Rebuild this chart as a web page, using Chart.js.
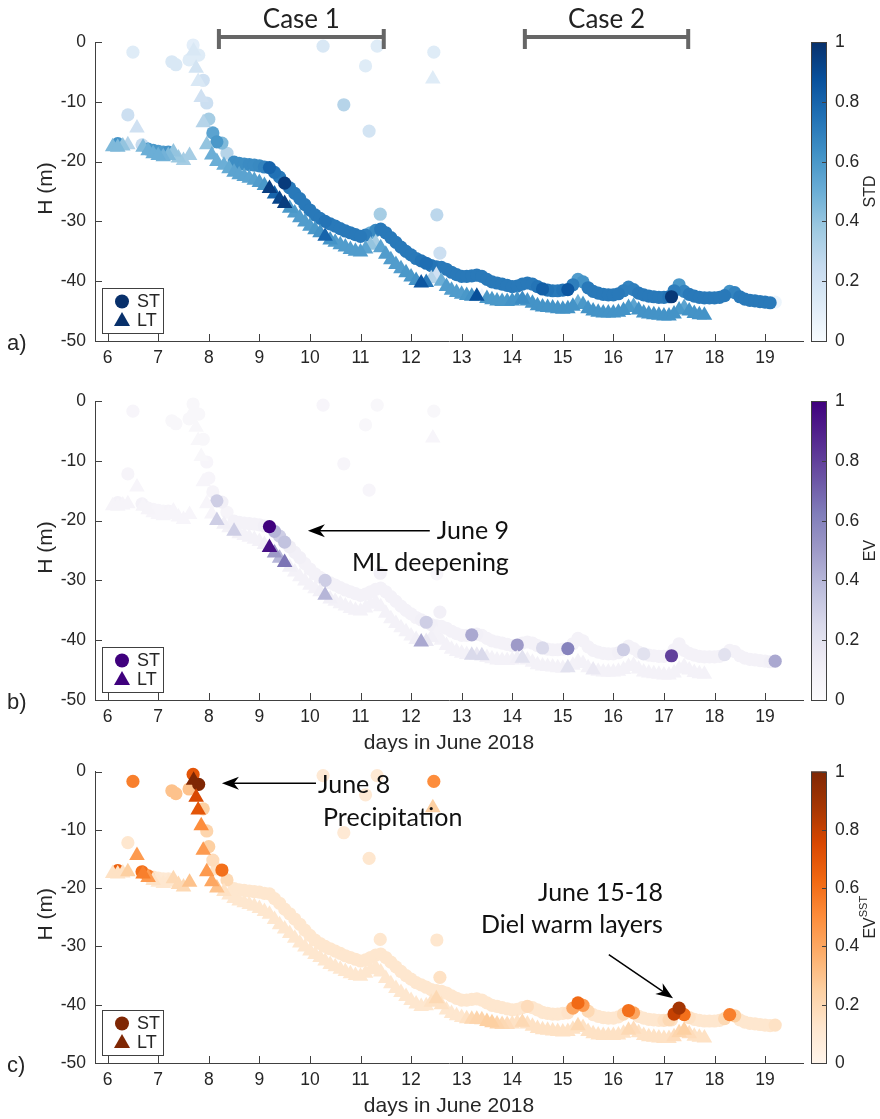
<!DOCTYPE html>
<html>
<head>
<meta charset="UTF-8">
<title>Mixed layer depth, June 2018</title>
<script src="https://cdn.jsdelivr.net/npm/chart.js@4.4.0/dist/chart.umd.min.js"></script>
<style>
  body { margin: 0; background: #fff; }
  canvas { position: absolute; left: 0; }
</style>
</head>
<body>
<canvas id="chA" width="880" height="372" style="top:0px"></canvas>
<canvas id="chB" width="880" height="380" style="top:372px"></canvas>
<canvas id="chC" width="880" height="367" style="top:752px"></canvas>
<script>
const xTicks = [6, 7, 8, 9, 10, 11, 12, 13, 14, 15, 16, 17, 18, 19];
const yTicks = [-50, -40, -30, -20, -10, 0];
const cbTicks = [0, 0.2, 0.4, 0.6, 0.8, 1];
const caseNames = ['Case 1', 'Case 2'];
const caseFrom = [8.2, 14.25];
const caseTo = [11.46, 17.48];

// ST (circles)
const stDay = [6.20, 6.40, 6.50, 6.68, 6.80, 6.90, 7.00, 7.10, 7.20, 7.27,
  7.35, 7.61, 7.69, 7.80, 7.89, 7.96, 8.00, 8.08, 8.16, 8.26,
  8.36,
  8.5, 8.6, 8.7, 8.8, 8.9, 9.0, 9.1, 9.2, 9.3, 9.4,
  9.5, 9.6, 9.7, 9.8, 9.9, 10.0, 10.1, 10.2, 10.3, 10.4,
  10.5, 10.6, 10.7, 10.8, 10.9, 11.0, 11.1, 11.2, 11.3, 11.4,
  11.5, 11.6, 11.7, 11.8, 11.9, 12.0, 12.1, 12.2, 12.3, 12.4,
  12.5, 12.6, 12.7, 12.8, 12.9, 13.0, 13.1, 13.2, 13.3, 13.4,
  13.5, 13.6, 13.7, 13.8, 13.9, 14.0, 14.1, 14.2, 14.3, 14.4,
  14.5, 14.6, 14.7, 14.8, 14.9, 15.0, 15.1, 15.2, 15.3, 15.4,
  15.5, 15.6, 15.7, 15.8, 15.9, 16.0, 16.1, 16.2, 16.3, 16.4,
  16.5, 16.6, 16.7, 16.8, 16.9, 17.0, 17.1, 17.15, 17.2, 17.3,
  17.4, 17.5, 17.6, 17.7, 17.8, 17.9, 18.0, 18.1, 18.2, 18.3,
  18.4, 18.5, 18.6, 18.7, 18.8, 18.9, 19.0, 19.1, 19.2,
  10.26, 10.67, 11.10, 11.17, 11.33, 11.39, 12.45, 12.51, 12.57];
const stH = [-17.0, -12.2, -1.7, -17.2, -17.9, -18.1, -18.3, -18.4, -18.4, -3.3,
  -3.8, -3.0, -0.5, -2.2, -6.4, -10.2, -12.9, -15.2, -16.7, -16.9,
  -18.6,
  -20.1, -20.3, -20.4, -20.5, -20.6, -20.7, -20.9, -21.0, -21.8, -22.6,
  -23.6, -24.4, -25.3, -26.2, -27.2, -28.1, -28.9, -29.5, -30.0, -30.4,
  -30.8, -31.2, -31.6, -31.9, -32.2, -32.5, -32.3, -31.9, -31.5, -31.3,
  -31.9, -32.7, -33.5, -34.3, -35.0, -35.6, -36.2, -36.6, -37.0, -37.4,
  -37.6, -37.7, -38.0, -38.5, -38.9, -39.2, -39.2, -39.1, -39.0, -39.2,
  -39.7, -40.1, -40.3, -40.5, -40.7, -40.9, -40.8, -40.5, -40.3, -40.5,
  -40.9, -41.3, -41.5, -41.6, -41.6, -41.5, -41.4, -40.6, -39.7, -40.1,
  -41.1, -41.7, -42.0, -42.2, -42.3, -42.3, -42.1, -41.6, -41.0, -41.4,
  -42.0, -42.3, -42.5, -42.6, -42.7, -42.7, -42.6, -42.6, -41.6, -40.6,
  -41.7, -42.2, -42.5, -42.7, -42.8, -42.8, -42.8, -42.7, -42.4, -41.7,
  -41.9, -42.6, -43.0, -43.2, -43.3, -43.4, -43.5, -43.6, -43.5,
  -0.7, -10.5, -4.0, -14.9, -0.7, -28.8, -1.7, -28.9, -35.3];
const stStd = [.62, .22, .12, .25, .60, .60, .58, .58, .62, .15,
  .15, .12, .10, .12, .20, .22, .35, .55, .60, .45,
  .30,
  .64, .64, .64, .65, .65, .66, .68, .80, .75, .72,
  .96, .72, .72, .72, .72, .72, .72, .72, .74, .72,
  .72, .72, .72, .72, .72, .72, .70, .50, .66, .72,
  .72, .72, .72, .72, .72, .72, .72, .74, .76, .74,
  .72, .72, .72, .72, .72, .72, .72, .72, .72, .72,
  .72, .72, .72, .72, .72, .72, .72, .72, .72, .72,
  .74, .82, .74, .72, .72, .74, .85, .70, .58, .62,
  .72, .72, .72, .72, .72, .72, .72, .70, .68, .70,
  .72, .72, .72, .72, .72, .72, .74, .97, .70, .60,
  .68, .72, .72, .72, .72, .72, .72, .72, .72, .62,
  .68, .72, .72, .72, .72, .72, .72, .72, .05,
  .15, .30, .12, .18, .12, .35, .12, .28, .22];
const stEv = [.08, .06, .05, .08, .06, .05, .05, .05, .06, .04,
  .04, .04, .04, .04, .04, .05, .05, .06, .30, .10,
  .06,
  .08, .08, .08, .08, .08, .08, .10, 1.0, .40, .30,
  .35, .12, .10, .10, .08, .08, .08, .08, .30, .08,
  .08, .08, .08, .08, .08, .08, .08, .08, .08, .08,
  .08, .08, .08, .08, .08, .08, .08, .10, .30, .10,
  .08, .08, .08, .08, .08, .08, .08, .45, .10, .08,
  .08, .08, .08, .08, .08, .08, .50, .08, .08, .08,
  .08, .25, .08, .08, .08, .08, .60, .08, .08, .08,
  .08, .08, .08, .08, .08, .08, .10, .30, .08, .08,
  .08, .20, .08, .08, .08, .08, .08, .80, .08, .08,
  .08, .08, .08, .08, .08, .08, .08, .08, .20, .08,
  .08, .08, .08, .08, .08, .08, .08, .10, .45,
  .05, .05, .04, .05, .04, .10, .04, .05, .10];
const stSst = [.65, .12, .55, .60, .55, .12, .10, .10, .10, .30,
  .30, .30, .70, 1.0, .25, .22, .25, .18, .15, .60,
  .20,
  .12, .12, .12, .12, .12, .12, .12, .12, .12, .12,
  .12, .12, .12, .12, .12, .12, .12, .12, .12, .12,
  .12, .12, .12, .12, .12, .12, .12, .12, .12, .12,
  .12, .12, .12, .12, .12, .12, .12, .12, .12, .12,
  .12, .12, .12, .12, .12, .12, .12, .12, .12, .12,
  .12, .12, .12, .12, .12, .12, .12, .12, .18, .12,
  .12, .12, .12, .12, .12, .12, .14, .40, .62, .45,
  .20, .12, .12, .12, .12, .12, .12, .20, .60, .40,
  .12, .12, .12, .12, .12, .15, .20, .15, .80, .88,
  .60, .15, .12, .12, .12, .12, .12, .12, .20, .55,
  .25, .12, .12, .12, .12, .12, .12, .12, .15,
  .10, .10, .10, .12, .10, .12, .50, .12, .15];

// LT (triangles)
const ltDay = [6.10, 6.20, 6.30, 6.40, 6.58, 6.70, 6.80, 6.90, 7.00, 7.10,
  7.20, 7.30, 7.40, 7.50, 7.62, 7.70, 7.75, 7.79, 7.85, 7.89,
  7.96, 8.06, 8.16, 8.30, 8.40,
  8.5, 8.6, 8.7, 8.8, 8.9, 9.0, 9.1, 9.2, 9.3, 9.4,
  9.5, 9.6, 9.7, 9.8, 9.9, 10.0, 10.1, 10.2, 10.3, 10.4,
  10.5, 10.6, 10.7, 10.8, 10.9, 11.0, 11.1, 11.2, 11.3, 11.4,
  11.5, 11.6, 11.7, 11.8, 11.9, 12.0, 12.1, 12.2, 12.3, 12.4,
  12.5, 12.6, 12.7, 12.8, 12.9, 13.0, 13.1, 13.2, 13.3, 13.4,
  13.5, 13.6, 13.7, 13.8, 13.9, 14.0, 14.1, 14.2, 14.3, 14.4,
  14.5, 14.6, 14.7, 14.8, 14.9, 15.0, 15.1, 15.2, 15.3, 15.4,
  15.5, 15.6, 15.7, 15.8, 15.9, 16.0, 16.1, 16.2, 16.3, 16.4,
  16.5, 16.6, 16.7, 16.8, 16.9, 17.0, 17.1, 17.2, 17.3, 17.4,
  17.5, 17.6, 17.7, 17.8,
  12.43];
const ltH = [-17.5, -17.6, -17.4, -17.2, -14.4, -17.6, -18.2, -18.7, -19.0, -19.2,
  -19.0, -18.4, -19.4, -19.8, -19.0, -1.5, -4.4, -6.6, -9.3, -13.5,
  -17.2, -18.9, -20.0, -20.6, -21.2,
  -21.8, -22.2, -22.5, -22.8, -23.1, -23.5, -24.0, -24.5, -25.4, -26.3,
  -27.0, -27.8, -28.6, -29.4, -30.1, -30.8, -31.4, -31.9, -32.5, -33.1,
  -33.5, -33.9, -34.3, -34.7, -35.0, -35.1, -34.6, -34.0, -33.6, -34.4,
  -35.5, -36.4, -37.2, -37.9, -38.6, -39.3, -39.9, -40.3, -40.2, -39.6,
  -39.0, -40.0, -40.9, -41.5, -41.9, -42.2, -42.4, -42.5, -42.5, -42.6,
  -42.9, -43.1, -43.3, -43.4, -43.4, -43.3, -43.1, -43.0, -43.3, -43.7,
  -44.1, -44.3, -44.4, -44.5, -44.6, -44.7, -44.6, -44.2, -43.6, -43.9,
  -44.6, -45.0, -45.2, -45.3, -45.3, -45.3, -45.2, -44.9, -44.4, -44.2,
  -44.8, -45.3, -45.5, -45.6, -45.7, -45.8, -45.8, -45.5, -44.8, -44.4,
  -45.0, -45.4, -45.6, -45.7,
  -6.2];
const ltStd = [.45, .45, .40, .30, .20, .45, .50, .50, .50, .48,
  .45, .40, .38, .35, .35, .15, .18, .15, .20, .30,
  .40, .50, .50, .50, .52,
  .55, .55, .55, .55, .56, .58, .60, .95, .80, .92,
  .95, .60, .58, .58, .58, .58, .60, .62, .80, .62,
  .58, .58, .58, .58, .58, .58, .55, .40, .35, .55,
  .58, .58, .58, .58, .60, .60, .62, .85, .72, .30,
  .20, .50, .58, .58, .58, .58, .60, .62, .88, .05,
  .60, .60, .60, .60, .60, .62, .62, .65, .62, .62,
  .62, .62, .62, .62, .62, .62, .62, .62, .50, .60,
  .62, .62, .62, .62, .62, .62, .62, .62, .60, .55,
  .62, .62, .62, .62, .62, .62, .62, .62, .60, .55,
  .62, .62, .62, .62,
  .12];
const ltEv = [.06, .06, .06, .06, .05, .06, .06, .05, .05, .05,
  .05, .05, .05, .05, .05, .04, .04, .04, .04, .05,
  .05, .06, .30, .10, .08,
  .30, .08, .08, .08, .08, .08, .10, .95, .50, .40,
  .65, .10, .08, .08, .08, .08, .08, .10, .40, .10,
  .08, .08, .08, .08, .08, .08, .08, .08, .08, .08,
  .08, .08, .08, .08, .08, .08, .10, .45, .15, .10,
  .08, .08, .08, .08, .08, .08, .08, .25, .15, .25,
  .08, .08, .08, .08, .08, .08, .10, .20, .08, .08,
  .08, .08, .08, .08, .08, .08, .20, .08, .08, .08,
  .08, .15, .08, .08, .08, .08, .08, .08, .08, .08,
  .08, .08, .08, .08, .08, .08, .08, .08, .08, .08,
  .08, .08, .08, .08,
  .05];
const ltSst = [.15, .15, .15, .25, .45, .55, .45, .15, .12, .12,
  .12, .20, .20, .20, .30, 1.0, .75, .70, .50, .45,
  .45, .40, .30, .15, .12,
  .12, .12, .12, .12, .12, .12, .12, .12, .12, .12,
  .12, .12, .12, .12, .12, .12, .12, .12, .12, .12,
  .12, .12, .12, .12, .12, .12, .12, .12, .12, .12,
  .12, .12, .12, .12, .12, .12, .12, .12, .12, .15,
  .20, .15, .12, .12, .12, .12, .15, .20, .22, .22,
  .25, .25, .22, .20, .18, .15, .15, .20, .15, .15,
  .15, .15, .15, .15, .15, .15, .15, .15, .20, .15,
  .15, .15, .15, .15, .15, .15, .15, .15, .20, .18,
  .15, .15, .15, .15, .15, .15, .15, .18, .22, .25,
  .18, .15, .15, .15,
  .25];

const blues = ['#f7fbff', '#deebf7', '#c6dbef', '#9ecae1', '#6baed6', '#4292c6', '#2171b5', '#08519c', '#08306b'];
const purples = ['#fcfbfd', '#efedf5', '#dadaeb', '#bcbddc', '#9e9ac8', '#807dba', '#6a51a3', '#54278f', '#3f007d'];
const oranges = ['#fff5eb', '#fee6ce', '#fdd0a2', '#fdae6b', '#fd8d3c', '#f16913', '#d94801', '#a63603', '#7f2704'];

const AX = '#404040';
const TXT = '#262626';
const SANS = '"Liberation Sans", Arial, sans-serif';
const ANNO = 'Lato, "Open Sans", sans-serif';

function hexRgb(h) {
  return [parseInt(h.slice(1, 3), 16), parseInt(h.slice(3, 5), 16), parseInt(h.slice(5, 7), 16)];
}
function cmap(stops, v) {
  v = Math.max(0, Math.min(1, v));
  const p = v * (stops.length - 1);
  const i = Math.min(Math.floor(p), stops.length - 2);
  const t = p - i;
  const a = hexRgb(stops[i]), b = hexRgb(stops[i + 1]);
  const c = a.map((q, k) => Math.round(q + (b[k] - q) * t));
  return 'rgb(' + c.join(',') + ')';
}

// points sorted by value so the strong ones end up on top
function pts(days, hs, vals) {
  return days.map((d, i) => ({ x: d, y: hs[i], v: vals[i] })).sort((p, q) => p.v - q.v);
}

function arrow(ctx, x1, y1, x2, y2) {
  const ang = Math.atan2(y2 - y1, x2 - x1), L = 17, W = 6.5, N = 5;
  ctx.beginPath();
  ctx.moveTo(x1, y1);
  ctx.lineTo(x2 - Math.cos(ang) * (L - N), y2 - Math.sin(ang) * (L - N));
  ctx.stroke();
  ctx.save();
  ctx.translate(x2, y2);
  ctx.rotate(ang);
  ctx.beginPath();
  ctx.moveTo(0, 0);
  ctx.lineTo(-L, -W);
  ctx.lineTo(-L + N, 0);
  ctx.lineTo(-L, W);
  ctx.closePath();
  ctx.fill();
  ctx.restore();
}

function decor(o) {
  return {
    id: 'decor',
    afterDraw(chart) {
      const ctx = chart.ctx, a = chart.chartArea;
      const xs = chart.scales.x, ys = chart.scales.y;
      ctx.save();

      // inward tick marks
      ctx.strokeStyle = AX;
      ctx.lineWidth = 1;
      ctx.beginPath();
      xTicks.forEach(t => {
        const x = Math.round(xs.getPixelForValue(t)) + 0.5;
        ctx.moveTo(x, a.bottom); ctx.lineTo(x, a.bottom - 7);
      });
      yTicks.forEach(t => {
        const y = Math.round(ys.getPixelForValue(t)) + 0.5;
        ctx.moveTo(a.left, y); ctx.lineTo(a.left + 7, y);
      });
      ctx.stroke();

      // axis titles and panel letter
      ctx.fillStyle = TXT;
      ctx.font = '21px ' + SANS;
      ctx.textAlign = 'center';
      ctx.textBaseline = 'middle';
      ctx.save();
      ctx.translate(46, (a.top + a.bottom) / 2 - 3);
      ctx.rotate(-Math.PI / 2);
      ctx.fillText('H (m)', 0, 0);
      ctx.restore();
      if (o.xTitle) ctx.fillText('days in June 2018', (a.left + a.right) / 2, a.bottom + 43);
      ctx.textAlign = 'left';
      ctx.font = '22px ' + SANS;
      ctx.fillText(o.panel, 7, a.bottom + 3);

      // legend
      const lx = a.left + 7, ly = a.bottom - 53;
      ctx.fillStyle = '#fff';
      ctx.fillRect(lx, ly, 61, 45);
      ctx.strokeStyle = AX;
      ctx.strokeRect(lx + 0.5, ly + 0.5, 61, 45);
      const dark = cmap(o.stops, 1);
      ctx.fillStyle = dark;
      ctx.beginPath();
      ctx.arc(lx + 20, ly + 13.5, 7, 0, Math.PI * 2);
      ctx.fill();
      ctx.beginPath();
      ctx.moveTo(lx + 20, ly + 24);
      ctx.lineTo(lx + 28, ly + 38);
      ctx.lineTo(lx + 12, ly + 38);
      ctx.closePath();
      ctx.fill();
      ctx.fillStyle = TXT;
      ctx.font = '18px ' + SANS;
      ctx.textBaseline = 'middle';
      ctx.fillText('ST', lx + 35, ly + 14);
      ctx.fillText('LT', lx + 35, ly + 33);

      // colorbar
      const cx0 = a.right + 8, cw = 15;
      const g = ctx.createLinearGradient(0, a.bottom, 0, a.top);
      for (let i = 0; i <= 40; i++) g.addColorStop(i / 40, cmap(o.stops, i / 40));
      ctx.fillStyle = g;
      ctx.fillRect(cx0, a.top, cw, a.bottom - a.top);
      ctx.strokeStyle = AX;
      ctx.strokeRect(cx0 + 0.5, a.top + 0.5, cw, a.bottom - a.top);
      ctx.fillStyle = TXT;
      ctx.font = '17.5px ' + SANS;
      ctx.beginPath();
      cbTicks.forEach(t => {
        const y = Math.round(a.bottom - t * (a.bottom - a.top)) + 0.5;
        ctx.moveTo(cx0 + cw, y); ctx.lineTo(cx0 + cw - 4, y);
        ctx.fillText(String(t), cx0 + 24, y);
      });
      ctx.stroke();
      ctx.save();
      ctx.translate(a.right + 68, (a.top + a.bottom) / 2);
      ctx.rotate(-Math.PI / 2);
      ctx.font = '16px ' + SANS;
      const w1 = ctx.measureText(o.cbLabel).width;
      let w2 = 0;
      if (o.cbSup) { ctx.font = '11px ' + SANS; w2 = ctx.measureText(o.cbSup).width; }
      ctx.textAlign = 'left';
      ctx.font = '16px ' + SANS;
      ctx.fillText(o.cbLabel, -(w1 + w2) / 2, 0);
      if (o.cbSup) {
        ctx.font = '11px ' + SANS;
        ctx.fillText(o.cbSup, -(w1 + w2) / 2 + w1, -7);
      }
      ctx.restore();

      if (o.notes) o.notes(ctx, xs, ys, a);
      ctx.restore();
    }
  };
}

function makeChart(id, o) {
  return new Chart(document.getElementById(id), {
    type: 'scatter',
    data: {
      datasets: [
        {
          label: 'LT', data: o.lt, order: 0, clip: false,
          pointStyle: 'triangle', pointRadius: 9,
          pointBackgroundColor: c => cmap(o.stops, c.raw ? c.raw.v : 1),
          pointBorderWidth: 0
        },
        {
          label: 'ST', data: o.st, order: 1, clip: false,
          pointStyle: 'circle', pointRadius: 6.6,
          pointBackgroundColor: c => cmap(o.stops, c.raw ? c.raw.v : 1),
          pointBorderWidth: 0
        }
      ]
    },
    options: {
      responsive: false,
      animation: false,
      events: [],
      layout: { padding: { left: 0, top: o.top, right: 77, bottom: 0 } },
      plugins: { legend: { display: false }, tooltip: { enabled: false } },
      scales: {
        x: {
          type: 'linear', min: 5.75, max: 19.75,
          afterBuildTicks: s => { s.ticks = xTicks.map(v => ({ value: v })); },
          afterFit: s => { s.height = o.xh; },
          grid: { display: false, drawTicks: false },
          border: { color: AX, width: 1 },
          ticks: { color: TXT, font: { family: SANS, size: 17.5 }, padding: 7, maxRotation: 0, autoSkip: false }
        },
        y: {
          type: 'linear', min: -50, max: 0,
          afterBuildTicks: s => { s.ticks = yTicks.map(v => ({ value: v })); },
          afterFit: s => { s.width = 95; },
          grid: { display: false, drawTicks: false },
          border: { color: AX, width: 1 },
          ticks: { color: TXT, font: { family: SANS, size: 17.5 }, padding: 9 }
        }
      }
    },
    plugins: [decor(o)]
  });
}

makeChart('chA', {
  top: 42, xh: 31, panel: 'a)', stops: blues, cbLabel: 'STD', xTitle: false,
  st: pts(stDay, stH, stStd), lt: pts(ltDay, ltH, ltStd),
  notes(ctx, xs, ys, a) {
    ctx.strokeStyle = '#666';
    ctx.lineWidth = 4;
    caseNames.forEach((nm, i) => {
      const x1 = xs.getPixelForValue(caseFrom[i]), x2 = xs.getPixelForValue(caseTo[i]);
      ctx.beginPath();
      ctx.moveTo(x1, a.top - 5); ctx.lineTo(x2, a.top - 5);
      ctx.moveTo(x1, a.top - 13); ctx.lineTo(x1, a.top + 7);
      ctx.moveTo(x2, a.top - 13); ctx.lineTo(x2, a.top + 7);
      ctx.stroke();
      ctx.fillStyle = '#222';
      ctx.font = '26px ' + ANNO;
      ctx.textAlign = 'center';
      ctx.textBaseline = 'alphabetic';
      ctx.fillText(nm, (x1 + x2) / 2, a.top - 14);
    });
  }
});

makeChart('chB', {
  top: 29, xh: 52, panel: 'b)', stops: purples, cbLabel: 'EV', xTitle: true,
  st: pts(stDay, stH, stEv), lt: pts(ltDay, ltH, ltEv),
  notes(ctx, xs, ys) {
    ctx.strokeStyle = '#000';
    ctx.fillStyle = '#000';
    ctx.lineWidth = 1.5;
    arrow(ctx, xs.getPixelForValue(12.37), ys.getPixelForValue(-21.7), xs.getPixelForValue(9.96), ys.getPixelForValue(-21.7));
    ctx.fillStyle = '#111';
    ctx.font = '25px ' + ANNO;
    ctx.textAlign = 'left';
    ctx.textBaseline = 'middle';
    ctx.fillText('June 9', xs.getPixelForValue(12.51), ys.getPixelForValue(-21.7));
    ctx.fillText('ML deepening', xs.getPixelForValue(10.83), ys.getPixelForValue(-27.1));
  }
});

makeChart('chC', {
  top: 13, xh: 56, panel: 'c)', stops: oranges, cbLabel: 'EV', cbSup: 'SST', xTitle: true,
  st: pts(stDay, stH, stSst), lt: pts(ltDay, ltH, ltSst),
  notes(ctx, xs, ys) {
    ctx.strokeStyle = '#000';
    ctx.fillStyle = '#000';
    ctx.lineWidth = 1.5;
    arrow(ctx, xs.getPixelForValue(10.12), ys.getPixelForValue(-2.0), xs.getPixelForValue(8.26), ys.getPixelForValue(-2.0));
    arrow(ctx, xs.getPixelForValue(15.91), ys.getPixelForValue(-31.4), xs.getPixelForValue(17.18), ys.getPixelForValue(-38.9));
    ctx.fillStyle = '#111';
    ctx.font = '25px ' + ANNO;
    ctx.textBaseline = 'middle';
    ctx.textAlign = 'left';
    ctx.fillText('June 8', xs.getPixelForValue(10.16), ys.getPixelForValue(-2.3));
    ctx.fillText('Precipitation', xs.getPixelForValue(10.26), ys.getPixelForValue(-7.9));
    ctx.textAlign = 'right';
    ctx.fillText('June 15-18', xs.getPixelForValue(16.98), ys.getPixelForValue(-20.8));
    ctx.fillText('Diel warm layers', xs.getPixelForValue(16.98), ys.getPixelForValue(-26.3));
  }
});
</script>
</body>
</html>
